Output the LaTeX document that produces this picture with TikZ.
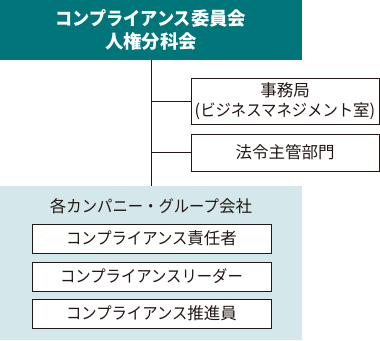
\documentclass[tikz,border=0pt]{standalone}
\usepackage{fontspec}
\usepackage{graphicx}
\setmainfont{Noto Sans CJK JP}
\definecolor{teal1}{HTML}{00767A}
\definecolor{light1}{HTML}{D4E7EA}
\definecolor{ink}{HTML}{231815}
\newcommand\kk[1]{\scalebox{0.93}[1]{#1}}
\tikzset{
  topbox/.style={fill=teal1, draw=none, minimum width=302pt, minimum height=60pt, inner sep=0pt, text=white, align=center, font=\fontsize{18.4}{23}\selectfont\bfseries},
  grpbox/.style={fill=light1, draw=none, minimum width=302pt, minimum height=154pt, inner sep=0pt},
  rbox/.style={draw=ink, fill=white, line width=1pt, minimum width=188pt, inner sep=0pt, align=center, text=ink, font=\fontsize{16.5}{20}\selectfont},
  ibox/.style={draw=ink, fill=white, line width=1pt, minimum width=239pt, minimum height=29pt, inner sep=0pt, text=ink, font=\fontsize{16.5}{20}\selectfont},
  conn/.style={draw=ink, line width=1pt}
}
\begin{document}
\begin{tikzpicture}[x=1pt,y=-1pt]
\useasboundingbox (0,0) rectangle (380,340);
\node[topbox] (top) at (151,30) {\kk{コンプライアンス}委員会\\人権分科会};
\node[grpbox] (grp) at (151,263) {};
\node[rbox, minimum height=46pt] (jim) at (285,101) {事務局\\(\kk{ビジネスマネジメント}室)};
\node[rbox, minimum height=37pt] (hou) at (285,152.5) {法令主管部門};
\node[text=ink, font=\fontsize{16.5}{20}\selectfont, inner sep=0pt] (lbl) at (151,206) {各\kk{カンパニー・グループ}会社};
\node[ibox] (ia) at (151.5,238.5) {\kk{コンプライアンス}責任者};
\node[ibox] (ib) at (151.5,276.5) {\kk{コンプライアンスリーダー}};
\node[ibox] (ic) at (151.5,313.5) {\kk{コンプライアンス}推進員};
\draw[conn] (top.south) -- (grp.north);
\draw[conn] (top.south |- jim.west) -- (jim.west);
\draw[conn] (top.south |- hou.west) -- (hou.west);
\end{tikzpicture}
\end{document}
